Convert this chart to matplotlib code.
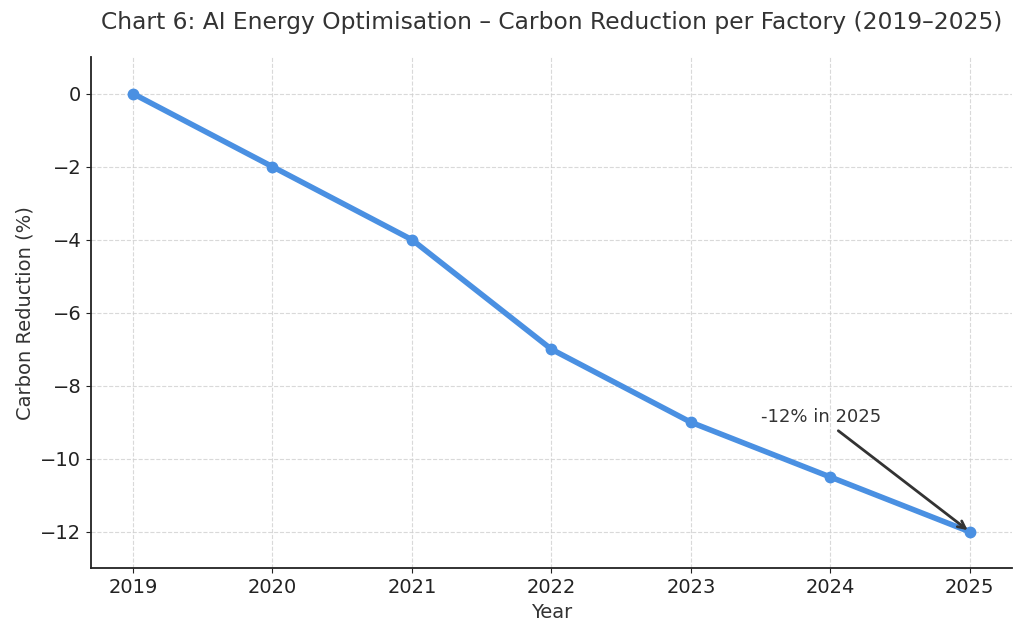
import matplotlib
matplotlib.use('Agg')
import matplotlib.pyplot as plt

years = [2019, 2020, 2021, 2022, 2023, 2024, 2025]
reduction = [0, -2, -4, -7, -9, -10.5, -12]

fig, ax = plt.subplots(figsize=(10.24, 6.35), dpi=100)

ax.plot(years, reduction, marker='o', color='#4A90E2', linewidth=4, markersize=7.5)

ax.set_title('Chart 6: AI Energy Optimisation \u2013 Carbon Reduction per Factory (2019\u20132025)',
             fontsize=16.8, color='#333333', pad=20)
ax.set_xlabel('Year', fontsize=14, color='#333333')
ax.set_ylabel('Carbon Reduction (%)', fontsize=14, color='#333333')
ax.set_ylim(-13, 1)
ax.set_xticks(years)
ax.tick_params(labelsize=14, colors='#222222')
ax.grid(True, linestyle='--', color='#d0d0d0', alpha=0.8, linewidth=0.8)
ax.spines['top'].set_visible(False)
ax.spines['right'].set_visible(False)
for s in ('left', 'bottom'):
    ax.spines[s].set_linewidth(1.3)
    ax.spines[s].set_color('#222222')

ax.annotate('-12% in 2025', xy=(years[-1], reduction[-1]), xytext=(2023.5, -9),
            fontsize=13, color='#333333',
            arrowprops=dict(arrowstyle='->', color='#333333', lw=2))

fig.subplots_adjust(left=0.089, right=0.988, top=0.91, bottom=0.105)
fig.savefig('out.png')
